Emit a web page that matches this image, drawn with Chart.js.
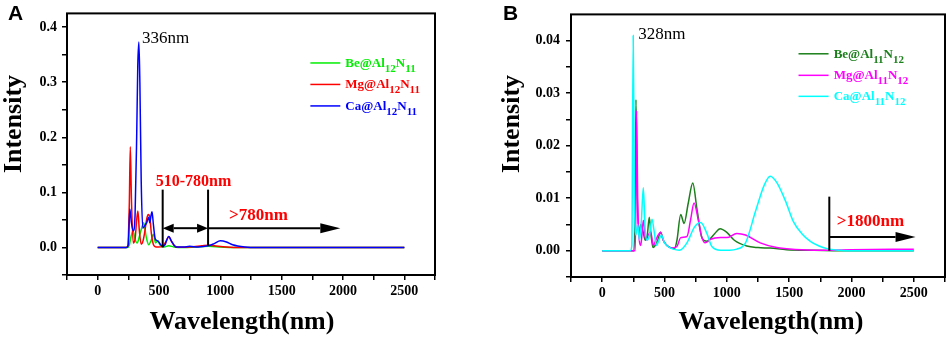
<!DOCTYPE html>
<html>
<head>
<meta charset="utf-8">
<script src="https://cdn.jsdelivr.net/npm/chart.js@4.4.0/dist/chart.umd.min.js"></script>
<style>
  body { margin: 0; background: #fff; }
  .panel { position: absolute; top: 0; }
  .tag { position: absolute; font: bold 21px "Liberation Sans", Arial, sans-serif; line-height: 24px; color: #000; }
</style>
</head>
<body>
<div class="panel" style="left:0"><canvas id="chartA" width="470" height="338"></canvas></div>
<div class="panel" style="left:475px"><canvas id="chartB" width="473" height="338"></canvas></div>
<div class="tag" style="left:8px;top:1px">A</div>
<div class="tag" style="left:503px;top:1px">B</div>
<script>
// ---- Panel A data (X@Al12N11) ----
const namesA = ["Be@Al12N11", "Mg@Al12N11", "Ca@Al12N11"];

const beA_x = [0, 240, 258, 272, 288, 305, 322, 340, 358, 375, 395, 416, 435, 455, 472, 490, 510, 540, 580, 620, 700, 800, 900, 1000, 1100, 2500];
const beA_y = [0, 0, 0.004, 0.02, 0.03, 0.015, 0.008, 0.02, 0.035, 0.045, 0.02, 0.005, 0.012, 0.024, 0.008, 0.012, 0.004, 0.001, 0.003, 0.001, 0, 0.001, 0.002, 0.001, 0, 0];

const mgA_x = [0, 230, 245, 258, 266, 275, 290, 305, 318, 328, 340, 355, 370, 385, 400, 412, 425, 438, 455, 475, 495, 530, 560, 580, 600, 630, 660, 750, 850, 900, 950, 1050, 1150, 2500];
const mgA_y = [0, 0, 0.002, 0.08, 0.183, 0.09, 0.008, 0.015, 0.05, 0.066, 0.03, 0.006, 0.012, 0.03, 0.052, 0.06, 0.055, 0.025, 0.005, 0.001, 0.001, 0.002, 0.012, 0.02, 0.012, 0.002, 0.0005, 0.001, 0.003, 0.004, 0.003, 0.001, 0, 0];

const caA_x = [0, 235, 250, 262, 275, 290, 305, 318, 327, 336, 344, 355, 368, 385, 400, 415, 425, 435, 443, 455, 470, 490, 510, 530, 550, 565, 580, 600, 640, 700, 750, 820, 900, 950, 1000, 1050, 1100, 1200, 1300, 2500];
const caA_y = [0, 0, 0.005, 0.07, 0.045, 0.03, 0.06, 0.2, 0.33, 0.373, 0.3, 0.12, 0.035, 0.04, 0.045, 0.055, 0.045, 0.058, 0.065, 0.04, 0.015, 0.012, 0.006, 0.002, 0.005, 0.015, 0.02, 0.012, 0.001, 0.001, 0.002, 0.001, 0.003, 0.007, 0.012, 0.01, 0.005, 0.001, 0, 0];

// ---- Panel B data (X@Al11N12) ----
const namesB = ["Be@Al11N12", "Mg@Al11N12", "Ca@Al11N12"];

const beB_x = [0, 255, 265, 271, 280, 295, 310, 325, 345, 362, 378, 392, 408, 425, 445, 469, 490, 520, 560, 580, 600, 630, 657, 690, 727, 760, 800, 840, 900, 946, 1000, 1060, 1160, 1250, 1348, 1480, 1700, 2000, 2500];
const beB_y = [0, 0, 0.01, 0.0288, 0.012, 0.003, 0.005, 0.004, 0.002, 0.003, 0.0064, 0.003, 0.0006, 0.001, 0.002, 0.0035, 0.002, 0.001, 0.0005, 0.0004, 0.002, 0.0069, 0.0052, 0.009, 0.0129, 0.008, 0.0025, 0.0018, 0.0032, 0.0042, 0.0035, 0.002, 0.0009, 0.0006, 0.0005, 0.0002, 0.0001, 0, 0];

const mgB_x = [0, 265, 270, 276, 285, 298, 310, 330, 350, 370, 390, 410, 430, 450, 469, 490, 520, 560, 600, 630, 680, 710, 737, 770, 800, 826, 870, 950, 1000, 1080, 1150, 1268, 1400, 1482, 1600, 1800, 2000, 2500];
const mgB_y = [0, 0, 0.008, 0.0267, 0.01, 0.002, 0.001, 0.0058, 0.002, 0.003, 0.0035, 0.001, 0.002, 0.003, 0.0035, 0.002, 0.001, 0.0005, 0.0008, 0.0025, 0.0027, 0.006, 0.0091, 0.006, 0.0025, 0.0015, 0.0022, 0.0025, 0.0025, 0.0033, 0.003, 0.0015, 0.0006, 0.0004, 0.0002, 0.0001, 0.0002, 0.0003];

const caB_x = [0, 225, 238, 249, 258, 270, 285, 300, 315, 330, 345, 360, 380, 400, 415, 435, 455, 475, 500, 530, 570, 620, 680, 740, 790, 840, 880, 950, 1020, 1080, 1150, 1230, 1300, 1348, 1400, 1470, 1535, 1600, 1670, 1740, 1804, 1900, 2000, 2500];
const caB_y = [0, 0, 0.001, 0.041, 0.012, 0.003, 0.005, 0.002, 0.006, 0.012, 0.004, 0.002, 0.003, 0.006, 0.004, 0.001, 0.002, 0.003, 0.0015, 0.0008, 0.0003, 0.0001, 0.0015, 0.0045, 0.0054, 0.0033, 0.0008, 0.0001, 0.0001, 0.0003, 0.0015, 0.0075, 0.0125, 0.0142, 0.013, 0.0095, 0.0055, 0.0033, 0.0018, 0.0009, 0.0004, 0.0001, 0, 0];

// tick positions
const xTicks = [-250, 0, 250, 500, 750, 1000, 1250, 1500, 1750, 2000, 2250, 2500, 2750];
const yTicksA = [-0.05, 0, 0.05, 0.1, 0.15, 0.2, 0.25, 0.3, 0.35, 0.4];
const yTicksB = [-0.005, 0, 0.005, 0.01, 0.015, 0.02, 0.025, 0.03, 0.035, 0.04];

const SERIF = '"Liberation Serif", "Times New Roman", serif';

function points(xs, ys) {
    return xs.map((x, i) => ({ x: x, y: ys[i] }));
}

// order: lower value is drawn on top (Ca on top like the original)
function series(label, xs, ys, color, order) {
    return {
        label: label,
        data: points(xs, ys),
        borderColor: color,
        borderWidth: 1.5,
        pointRadius: 0,
        fill: false,
        tension: 0.4,
        cubicInterpolationMode: "monotone",
        order: order,
    };
}

// frame, axis titles, markers, arrows, notes and legend (with subscripts)
const panelMarks = {
    id: "panelMarks",
    afterDatasetsDraw(chart, args, opts) {
        const { ctx, chartArea: a, scales: { x, y } } = chart;
        const px = (v) => x.getPixelForValue(v);
        const py = (v) => y.getPixelForValue(v);
        ctx.save();

        ctx.strokeStyle = "#000";
        ctx.lineWidth = 2;
        ctx.strokeRect(a.left, a.top, a.right - a.left, a.bottom - a.top);

        // axis titles
        ctx.fillStyle = "#000";
        ctx.font = "bold 26px " + SERIF;
        ctx.textAlign = "center";
        ctx.textBaseline = "middle";
        ctx.fillText("Wavelength(nm)", opts.xTitle[0], opts.xTitle[1]);
        ctx.save();
        ctx.translate(opts.yTitle[0], opts.yTitle[1]);
        ctx.rotate(-Math.PI / 2);
        ctx.fillText("Intensity", 0, 0);
        ctx.restore();

        (opts.markers || []).forEach((m) => {
            ctx.beginPath();
            ctx.moveTo(px(m.x), py(m.y0));
            ctx.lineTo(px(m.x), py(m.y1));
            ctx.stroke();
        });

        (opts.arrows || []).forEach((ar) => {
            const x0 = px(ar.x0), x1 = px(ar.x1), yy = py(ar.y);
            const [len, half] = ar.head;
            ctx.beginPath();
            ctx.moveTo(ar.both ? x0 + len : x0, yy);
            ctx.lineTo(x1 - len, yy);
            ctx.stroke();
            ctx.beginPath();
            ctx.moveTo(x1, yy);
            ctx.lineTo(x1 - len, yy - half);
            ctx.lineTo(x1 - len, yy + half);
            ctx.closePath();
            ctx.fill();
            if (ar.both) {
                ctx.beginPath();
                ctx.moveTo(x0, yy);
                ctx.lineTo(x0 + len, yy - half);
                ctx.lineTo(x0 + len, yy + half);
                ctx.closePath();
                ctx.fill();
            }
        });

        (opts.notes || []).forEach((n) => {
            ctx.font = n.font;
            ctx.fillStyle = n.color;
            ctx.textAlign = n.align;
            ctx.textBaseline = "middle";
            ctx.fillText(n.text, px(n.x), py(n.y));
        });

        const lg = opts.legend;
        if (lg) {
            ctx.textAlign = "left";
            ctx.textBaseline = "alphabetic";
            chart.data.datasets.forEach((ds, i) => {
                const yy = py(lg.y[i]);
                ctx.strokeStyle = ds.borderColor;
                ctx.lineWidth = 1.5;
                ctx.beginPath();
                ctx.moveTo(px(lg.x0), yy);
                ctx.lineTo(px(lg.x1), yy);
                ctx.stroke();
                ctx.fillStyle = ds.borderColor;
                let tx = px(lg.tx);
                ds.label.split(/(\d+)/).forEach((part, k) => {
                    if (!part) return;
                    const sub = k % 2 === 1;
                    ctx.font = sub ? "bold 11px " + SERIF : "bold 13px " + SERIF;
                    ctx.fillText(part, tx, yy + (sub ? 9 : 4));
                    tx += ctx.measureText(part).width;
                });
            });
        }
        ctx.restore();
    },
};

function makeChart(id, datasets, cfg) {
    return new Chart(document.getElementById(id).getContext("2d"), {
        type: "line",
        data: { datasets: datasets },
        plugins: [panelMarks],
        options: {
            responsive: false,
            animation: false,
            devicePixelRatio: 1,
            layout: { padding: cfg.padding },
            plugins: {
                legend: { display: false },
                tooltip: { enabled: false },
                panelMarks: cfg.marks,
            },
            scales: {
                x: {
                    type: "linear",
                    min: -250,
                    max: 2750,
                    afterBuildTicks: (s) => { s.ticks = xTicks.map((v) => ({ value: v })); },
                    afterFit: (s) => { s.height = cfg.xHeight; },
                    border: { display: false },
                    grid: { drawOnChartArea: false, tickLength: 5, color: "#000", lineWidth: 1.5 },
                    ticks: {
                        autoSkip: false,
                        maxRotation: 0,
                        padding: 3,
                        color: "#000",
                        font: { family: SERIF, size: 14, weight: "bold" },
                        callback: (v) => (v >= 0 && v <= 2500 && v % 500 === 0 ? String(v) : ""),
                    },
                },
                y: {
                    type: "linear",
                    min: cfg.yMin,
                    max: cfg.yMax,
                    afterBuildTicks: (s) => { s.ticks = cfg.yTicks.map((v) => ({ value: v })); },
                    afterFit: (s) => { s.width = cfg.yWidth; },
                    border: { display: false },
                    grid: { drawOnChartArea: false, tickLength: 5, color: "#000", lineWidth: 1.5 },
                    ticks: {
                        autoSkip: false,
                        padding: cfg.yPad,
                        color: "#000",
                        font: { family: SERIF, size: 14, weight: "bold" },
                        callback: cfg.yLabel,
                    },
                },
            },
        },
    });
}

makeChart("chartA", [
    series(namesA[0], beA_x, beA_y, "#00ee00", 2),
    series(namesA[1], mgA_x, mgA_y, "#ff0000", 1),
    series(namesA[2], caA_x, caA_y, "#0000ff", 0),
], {
    padding: { left: 0, right: 35, top: 3, bottom: 0 },
    xHeight: 63,
    yWidth: 67,
    yPad: 5,
    yMin: -0.05,
    yMax: 0.425,
    yTicks: yTicksA,
    yLabel: (v) => (v >= 0 && Math.abs(v * 10 - Math.round(v * 10)) < 1e-6 ? v.toFixed(1) : ""),
    marks: {
        xTitle: [242, 322],
        yTitle: [14, 124],
        markers: [{ x: 530, y0: 0, y1: 0.105 }, { x: 900, y0: 0.003, y1: 0.105 }],
        arrows: [
            { x0: 530, x1: 900, y: 0.035, both: true, head: [11, 4.5] },
            { x0: 900, x1: 1978, y: 0.035, both: false, head: [20, 5] },
        ],
        notes: [
            { text: "336nm", x: 362, y: 0.38, align: "left", color: "#000", font: "17px " + SERIF },
            { text: "510-780nm", x: 781, y: 0.12, align: "center", color: "#ff0000", font: "bold 16px " + SERIF },
            { text: ">780nm", x: 1311, y: 0.057, align: "center", color: "#ff0000", font: "bold 17px " + SERIF },
        ],
        legend: { x0: 1734, x1: 1978, tx: 2019, y: [0.335, 0.296, 0.257] },
    },
});

makeChart("chartB", [
    series(namesB[0], beB_x, beB_y, "#1b7f1b", 2),
    series(namesB[1], mgB_x, mgB_y, "#ff00ff", 1),
    series(namesB[2], caB_x, caB_y, "#00ffff", 0),
], {
    padding: { left: 0, right: 3, top: 3, bottom: 0 },
    xHeight: 61,
    yWidth: 96,
    yPad: 6,
    yMin: -0.005,
    yMax: 0.045,
    yTicks: yTicksB,
    yLabel: (v) => (v >= 0 && Math.abs(v * 100 - Math.round(v * 100)) < 1e-6 ? v.toFixed(2) : ""),
    marks: {
        xTitle: [296, 322],
        yTitle: [37, 124],
        markers: [{ x: 1822, y0: 0, y1: 0.0103 }],
        arrows: [{ x0: 1822, x1: 2514, y: 0.0026, both: false, head: [20, 5] }],
        notes: [
            { text: "328nm", x: 289, y: 0.0412, align: "left", color: "#000", font: "17px " + SERIF },
            { text: ">1800nm", x: 2152, y: 0.0056, align: "center", color: "#ff0000", font: "bold 17px " + SERIF },
        ],
        legend: { x0: 1575, x1: 1816, tx: 1857, y: [0.0375, 0.0334, 0.0294] },
    },
});
</script>
</body>
</html>
